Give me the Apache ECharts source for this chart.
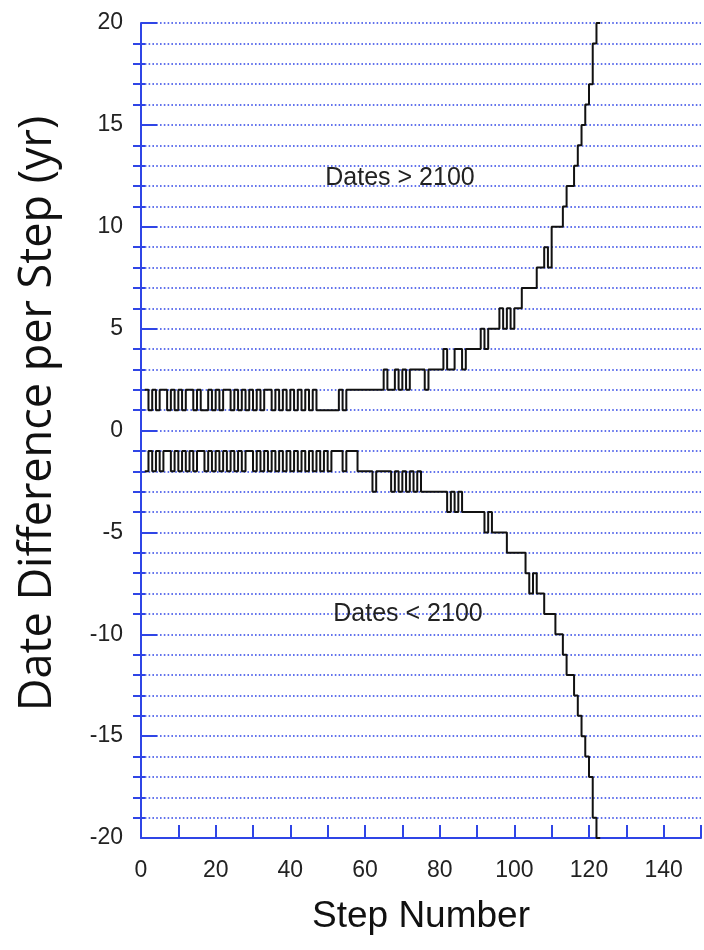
<!DOCTYPE html>
<html>
<head>
<meta charset="utf-8">
<script src="https://cdn.jsdelivr.net/npm/echarts@6/dist/echarts.min.js"></script>
<style>
  html, body { margin: 0; background: #fff; }
  #chart { width: 704px; height: 950px; }
</style>
</head>
<body>
<div id="chart"></div>
<script>
// date difference (yr) for each step number, starting at step 1
const upperSteps = [
  2, 1, 2, 1, 2, 2, 1, 2, 1, 2, 1, 2, 2, 1, 2, 1, 1, 2, 1, 2,
  1, 2, 2, 1, 2, 1, 2, 1, 2, 1, 2, 1, 2, 2, 1, 2, 1, 2, 1, 2,
  1, 2, 1, 2, 1, 2, 1, 1, 1, 1, 1, 1, 2, 1, 2, 2, 2, 2, 2, 2,
  2, 2, 2, 2, 3, 2, 2, 3, 2, 3, 2, 3, 3, 3, 3, 2, 3, 3, 3, 3,
  4, 3, 3, 4, 4, 3, 4, 4, 4, 4, 5, 4, 5, 5, 5, 6, 5, 6, 5, 6,
  6, 7, 7, 7, 7, 8, 8, 9, 8, 10, 10, 10, 11, 12, 12, 13, 14, 15, 16, 17,
  19, 20
];
const lowerSteps = [
  -2, -1, -2, -1, -2, -1, -1, -2, -1, -2, -1, -2, -1, -2, -1, -1, -2, -1, -2, -1,
  -2, -1, -2, -1, -2, -1, -2, -1, -1, -2, -1, -2, -1, -2, -1, -2, -1, -2, -1, -2,
  -1, -2, -1, -2, -1, -2, -1, -2, -1, -2, -1, -1, -1, -2, -1, -1, -1, -2, -2, -2,
  -2, -3, -2, -2, -2, -2, -3, -2, -3, -2, -3, -2, -3, -2, -3, -3, -3, -3, -3, -3,
  -3, -4, -3, -4, -3, -4, -4, -4, -4, -4, -4, -5, -4, -5, -5, -5, -5, -6, -6, -6,
  -6, -6, -7, -8, -7, -8, -8, -9, -9, -9, -10, -10, -11, -12, -12, -13, -14, -15, -16, -17,
  -19, -20
];
const xTicks = [0, 20, 40, 60, 80, 100, 120, 140];
const yTicks = [-20, -15, -10, -5, 0, 5, 10, 15, 20];
const notes = [
  { text: 'Dates > 2100', x: 400, y: 178 },
  { text: 'Dates < 2100', x: 408, y: 614 }
];

const blue = '#2f45e6';
const toPoints = (vals) => {
  const pts = vals.map((v, i) => [i + 1, v]);
  pts.push([vals.length + 1, vals[vals.length - 1]]);
  return pts;
};

const chart = echarts.init(document.getElementById('chart'), null, { renderer: 'canvas' });

const dotted = { color: blue, width: 1.6, type: [1.6, 2.2] };

chart.setOption({
  animation: false,
  backgroundColor: '#fff',
  grid: { left: 141, top: 23, width: 564, height: 815 },
  xAxis: {
    type: 'value',
    min: 0,
    max: 150,
    interval: 10,
    name: 'Step Number',
    nameLocation: 'middle',
    nameGap: 60,
    nameTextStyle: { fontFamily: 'Liberation Sans', fontSize: 37, color: '#111' },
    axisLine: { show: true, onZero: false, lineStyle: { color: blue, width: 2 } },
    axisTick: { show: true, inside: true, length: 13, lineStyle: { color: blue, width: 2 } },
    axisLabel: {
      margin: 21,
      fontFamily: 'Liberation Sans',
      fontSize: 23,
      color: '#222',
      formatter: (v) => (xTicks.indexOf(v) >= 0 ? String(v) : '')
    },
    splitLine: { show: false }
  },
  yAxis: [
    {
      type: 'value',
      min: -20,
      max: 20,
      interval: 5,
      name: 'Date Difference per Step (yr)',
      nameLocation: 'middle',
      nameRotate: 90,
      nameGap: 80,
      nameTextStyle: { fontFamily: 'Open Sans', fontSize: 45, color: '#111', padding: [0, 0, 0, 34] },
      axisLine: { show: true, onZero: false, lineStyle: { color: blue, width: 2 } },
      axisTick: { show: true, inside: true, length: 16, lineStyle: { color: blue, width: 2 } },
      minorTick: { show: false, splitNumber: 5 },
      axisLabel: {
        margin: 18,
        fontFamily: 'Liberation Sans',
        fontSize: 23,
        color: '#222',
        formatter: (v) => (yTicks.indexOf(v) >= 0 ? String(v) : '')
      },
      splitLine: { show: true, lineStyle: dotted },
      minorSplitLine: { show: true, lineStyle: dotted }
    },
    {
      // second copy of the axis only for the small crossing minor ticks
      type: 'value',
      position: 'left',
      offset: -4,
      min: -20,
      max: 20,
      interval: 5,
      axisLine: { show: false },
      axisTick: { show: false, inside: false },
      minorTick: { show: true, splitNumber: 5, length: 12, lineStyle: { color: blue, width: 2 } },
      axisLabel: { show: false },
      splitLine: { show: false }
    }
  ],
  graphic: notes.map((n) => ({
    type: 'text',
    x: n.x,
    y: n.y,
    style: {
      text: n.text,
      fontFamily: 'Liberation Sans',
      fontSize: 25,
      fill: '#222',
      align: 'center',
      verticalAlign: 'middle'
    },
    z: 10
  })),
  series: [
    {
      name: 'Dates > 2100',
      type: 'line',
      step: 'end',
      data: toPoints(upperSteps),
      showSymbol: false,
      lineStyle: { color: '#111', width: 2 },
      z: 5
    },
    {
      name: 'Dates < 2100',
      type: 'line',
      step: 'end',
      data: toPoints(lowerSteps),
      showSymbol: false,
      lineStyle: { color: '#111', width: 2 },
      z: 5
    }
  ]
});
</script>
</body>
</html>
